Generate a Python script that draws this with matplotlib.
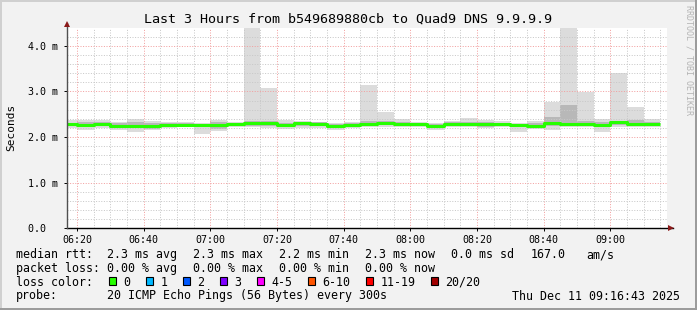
import numpy as np
import pandas as pd
import matplotlib
matplotlib.use("Agg")
from matplotlib import pyplot as plt
import matplotlib.dates as mdates
from matplotlib.ticker import MultipleLocator, FixedLocator, FixedFormatter
from matplotlib.patches import Rectangle

W, H = 697, 310
MONO = "DejaVu Sans Mono"

# 5 minute buckets, values in ms
bin_start = pd.date_range("2025-12-11 06:15", periods=36, freq="5min")
rtt_max = [2.37, 2.37, 2.38, 2.34, 2.39, 2.36, 2.33, 2.33, 2.31, 2.38,
           2.34, 4.50, 3.08, 2.37, 2.35, 2.34, 2.31, 2.33, 3.14, 2.54,
           2.40, 2.33, 2.30, 2.35, 2.41, 2.37, 2.35, 2.31, 2.35, 2.77,
           4.50, 2.98, 2.40, 3.41, 2.65, 2.40]
rtt_q3 = [2.31, 2.33, 2.34, 2.30, 2.33, 2.31, 2.30, 2.30, 2.29, 2.33,
          2.31, 2.36, 2.36, 2.31, 2.33, 2.32, 2.28, 2.30, 2.35, 2.36,
          2.34, 2.31, 2.28, 2.32, 2.34, 2.33, 2.31, 2.29, 2.31, 2.45,
          2.70, 2.36, 2.33, 2.36, 2.37, 2.33]
rtt_med = [2.28, 2.27, 2.29, 2.25, 2.24, 2.25, 2.27, 2.27, 2.26, 2.26,
           2.29, 2.30, 2.30, 2.27, 2.31, 2.29, 2.24, 2.27, 2.29, 2.30,
           2.29, 2.29, 2.24, 2.28, 2.29, 2.28, 2.28, 2.27, 2.25, 2.30,
           2.29, 2.29, 2.27, 2.32, 2.28, 2.28]
rtt_q1 = [2.25, 2.21, 2.24, 2.20, 2.19, 2.18, 2.24, 2.24, 2.21, 2.17,
          2.25, 2.25, 2.25, 2.21, 2.24, 2.24, 2.19, 2.23, 2.25, 2.26,
          2.26, 2.26, 2.19, 2.24, 2.25, 2.23, 2.25, 2.22, 2.20, 2.25,
          2.25, 2.25, 2.22, 2.26, 2.24, 2.24]
rtt_min = [2.19, 2.15, 2.20, 2.16, 2.10, 2.15, 2.20, 2.21, 2.07, 2.13,
           2.22, 2.22, 2.20, 2.18, 2.19, 2.19, 2.15, 2.19, 2.21, 2.22,
           2.22, 2.22, 2.16, 2.21, 2.22, 2.20, 2.22, 2.12, 2.18, 2.16,
           2.21, 2.21, 2.10, 2.21, 2.21, 2.22]

y_ticks = [0, 1, 2, 3, 4]
y_labels = ["0.0  ", "1.0 m", "2.0 m", "3.0 m", "4.0 m"]

loss_labels = ["0", "1", "2", "3", "4-5", "6-10", "11-19", "20/20"]
loss_colors = ["#26ff00", "#00b8ff", "#0059ff", "#7e00ff",
               "#ff00ff", "#ff5500", "#ff0000", "#a10000"]

rtt_row = ["2.3 ms avg", "2.3 ms max", "2.2 ms min", "2.3 ms now", "0.0 ms sd"]
loss_row = ["0.00 % avg", "0.00 % max", "0.00 % min", "0.00 % now"]

fig = plt.figure(figsize=(W / 100, H / 100), dpi=100)
fig.patch.set_facecolor("#f2f2f2")

x0, x1, ytop, ybot = 67, 667, 28, 228.3
ax = fig.add_axes([x0 / W, 1 - ybot / H, (x1 - x0) / W, (ybot - ytop) / H])
ax.set_facecolor("white")

# step edges (one extra point so the last bucket gets drawn)
edges = list(bin_start) + [bin_start[-1] + pd.Timedelta(minutes=5)]
def ext(v):
    return list(v) + [v[-1]]

ax.fill_between(edges, ext(rtt_min), ext(rtt_max), step="post",
                color="#dcdcdc", lw=0, zorder=1)
ax.fill_between(edges, ext(rtt_q1), ext(rtt_q3), step="post",
                color="#b8b8b8", lw=0, zorder=1.1)
ax.step(edges, ext(rtt_med), where="post", color=loss_colors[0],
        lw=2.2, zorder=3, solid_capstyle="butt")

left = pd.Timestamp("2025-12-11 06:17:00")
ax.set_xlim(left, left + pd.Timedelta(hours=3))
ax.set_ylim(0, 4.39)

ax.xaxis.set_major_locator(mdates.MinuteLocator(byminute=[0, 20, 40]))
ax.xaxis.set_minor_locator(mdates.MinuteLocator(byminute=range(0, 60, 5)))
ax.xaxis.set_major_formatter(mdates.DateFormatter("%H:%M"))
ax.yaxis.set_major_locator(FixedLocator(y_ticks))
ax.yaxis.set_major_formatter(FixedFormatter(y_labels))
ax.yaxis.set_minor_locator(MultipleLocator(0.2))

ax.set_axisbelow(False)
ax.grid(which="minor", color="#c8c8c8", ls=(0, (1, 1.6)), lw=0.72)
ax.grid(which="major", color="#f2a0a0", ls=(0, (1, 1.6)), lw=0.72)

for s in ax.spines.values():
    s.set_visible(False)
ax.tick_params(which="major", length=2, width=0.7, color="black",
               labelsize=7.2, pad=3)
ax.tick_params(which="minor", length=0)
ax.tick_params(axis="y", pad=4.5)
for lab in ax.get_xticklabels() + ax.get_yticklabels():
    lab.set_family(MONO)

# axis lines with the little arrow heads
ax.plot([0, (673 - x0) / (x1 - x0)], [0, 0], transform=ax.transAxes,
        color="black", lw=1, clip_on=False, zorder=4)
ax.plot([0, 0], [0, (ybot - 23) / (ybot - ytop)], transform=ax.transAxes,
        color="#505050", lw=1, clip_on=False, zorder=4)
ax.plot([(671 - x0) / (x1 - x0)], [0], transform=ax.transAxes, marker=">",
        ms=4.5, color="#8b1a1a", clip_on=False, zorder=5, mew=0)
ax.plot([0], [(ybot - 24) / (ybot - ytop)], transform=ax.transAxes, marker="^",
        ms=4.5, color="#8b1a1a", clip_on=False, zorder=5, mew=0)

def ftxt(x, y, s, **kw):
    kw.setdefault("family", MONO)
    kw.setdefault("size", 8.4)
    kw.setdefault("va", "center")
    kw.setdefault("ha", "left")
    kw.setdefault("color", "black")
    fig.text(x / W, 1 - y / H, s, **kw)

ftxt(348.5, 19, "Last 3 Hours from b549689880cb to Quad9 DNS 9.9.9.9",
     size=9.6, ha="center")
ftxt(11, 127.5, "Seconds", size=8, ha="center", rotation=90)
ftxt(688.5, 60, "RRDTOOL / TOBI OETIKER", size=6, ha="center",
     rotation=270, color="#b4b4b4")

# legend rows
ftxt(16, 254.5, "median rtt:")
for i, s in enumerate(rtt_row):
    ftxt(107.3 + 86 * i, 254.5, s)
ftxt(530.3, 254.5, "167.0")
ftxt(586.3, 254.5, "am/s")

ftxt(16, 268.5, "packet loss:")
for i, s in enumerate(loss_row):
    ftxt(107.3 + 86 * i, 268.5, s)

ftxt(16, 282, "loss color:")
bx = 108.5
for lab, col in zip(loss_labels, loss_colors):
    fig.patches.append(Rectangle((bx / W, 1 - 284.5 / H), 7.5 / W, 7.5 / H,
                                 transform=fig.transFigure, facecolor=col,
                                 edgecolor="black", lw=0.8))
    ftxt(bx + 15, 282, lab)
    bx += 30 + 7 * len(lab)

ftxt(16, 296, "probe:")
ftxt(107.3, 296, "20 ICMP Echo Pings (56 Bytes) every 300s")
ftxt(680.5, 296, "Thu Dec 11 09:16:43 2025", ha="right")

# 3d-ish frame round the picture
fig.patches.append(Rectangle((0, 0), 2 / W, 1, transform=fig.transFigure,
                             facecolor="#d0d0d0", lw=0))
fig.patches.append(Rectangle((0, 1 - 2 / H), 1, 2 / H, transform=fig.transFigure,
                             facecolor="#d0d0d0", lw=0))
fig.patches.append(Rectangle((1 - 2 / W, 0), 2 / W, 1, transform=fig.transFigure,
                             facecolor="#9c9c9c", lw=0))
fig.patches.append(Rectangle((0, 0), 1, 2 / H, transform=fig.transFigure,
                             facecolor="#9c9c9c", lw=0))

fig.savefig("out.png", dpi=100, facecolor=fig.get_facecolor())
